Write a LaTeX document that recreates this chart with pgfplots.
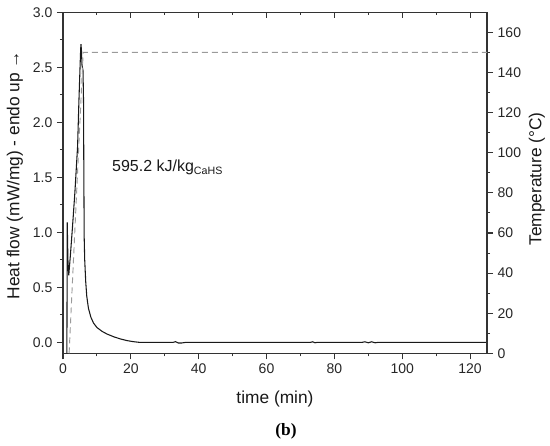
\documentclass[border=0pt]{standalone}
\usepackage{pgfplots}
\pgfplotsset{compat=1.18}
\usepackage{fontspec}
\setmainfont{Liberation Sans}
\newfontfamily\capfont{Liberation Serif}
\definecolor{axgray}{HTML}{333333}
\definecolor{dashgray}{HTML}{9A9A9A}
\begin{document}
\begin{tikzpicture}
\pgfplotsset{
  common/.style={
    scale only axis, width=318pt, height=255.75pt,
    xmin=0, xmax=125,
    axis line style={axgray, line width=0.9pt},
    major tick length=4.5pt, minor tick length=2.25pt,
    every tick/.style={axgray, line width=0.8pt},
    tick label style={font=\fontsize{10.5}{12}\selectfont, text=black!85},
    /pgf/number format/assume math mode=true,
    label style={font=\fontsize{13}{15}\selectfont, text=black!90},
  }
}
% top ticks (inward)
\begin{axis}[common, ymin=-0.1, ymax=3.0, hide y axis,
  xtick pos=right, tick align=inside,
  xtick={0,20,...,120}, minor xtick={10,30,...,110}, xticklabels={}]
\end{axis}
% main axis: heat flow
\begin{axis}[common, ymin=-0.1, ymax=3.0,
  xtick pos=left, ytick pos=left, tick align=outside,
  xtick={0,20,...,120}, minor xtick={10,30,...,110},
  ytick={0,0.5,...,3.0}, minor ytick={0.25,0.75,...,2.75},
  yticklabel style={/pgf/number format/fixed, /pgf/number format/fixed zerofill, /pgf/number format/precision=1},
  xlabel={time (min)},
  xlabel style={at={(axis description cs:0.5,0)}, anchor=center, yshift=-34.5pt},
  ylabel={Heat flow (mW/mg) - endo up →},
  ylabel style={at={(axis description cs:0,0.523)}, anchor=center, yshift=36pt},
  clip=true]
\addplot[black!90, line width=0.8pt] coordinates {
(1.15,-0.1) (1.25,1.09) (1.45,0.75) (1.7,0.61) (2.2,0.8) (2.8,1.05) (3.5,1.36) (4.3,1.78) (4.7,2.2) (5.0,2.48) (5.2,2.66) (5.3,2.71) (5.45,2.65) (5.6,2.52) (5.9,2.47) (6.05,2.2) (6.15,1.5) (6.25,0.95) (6.4,0.75) (6.7,0.55) (7.0,0.42) (7.5,0.31) (8.2,0.23) (9.0,0.175) (10,0.135) (11.5,0.1) (13,0.075) (15,0.05) (17,0.03) (19,0.015) (21,0.005) (22.5,0) (32.5,0) (33.2,0.006) (34,-0.006) (35,-0.006) (36.2,0) (73,0) (73.6,0.005) (74.3,-0.004) (75,0) (88.2,0) (89,0.005) (90,-0.004) (91,0.005) (92,-0.004) (93,0) (125,0)
};
\node[anchor=base west, font=\fontsize{12}{14}\selectfont, text=black!90] at (axis cs:13.1,1.55) {595.2 kJ/kg\textsubscript{CaHS}};
\end{axis}
% right axis: temperature
\begin{axis}[common, ymin=0, ymax=170, hide x axis,
  axis y line*=right, ytick pos=right, tick align=outside,
  ytick={0,20,...,160}, minor ytick={10,30,...,150},
  ylabel={Temperature (°C)},
  ylabel style={at={(axis description cs:1,0.511)}, anchor=center, yshift=-37.5pt}]
\addplot[dashgray, line width=0.7pt, dash pattern=on 4.5pt off 3pt] coordinates {
(1.8,0) (5.95,150) (125,150)
};
\end{axis}
\node[anchor=base, font=\capfont\bfseries\fontsize{13}{15}\selectfont] at (167.25pt,-62pt) {(b)};
\pgfresetboundingbox
\useasboundingbox (-47.25pt,-69.5pt) rectangle (365.25pt,265pt);
\end{tikzpicture}
\end{document}
